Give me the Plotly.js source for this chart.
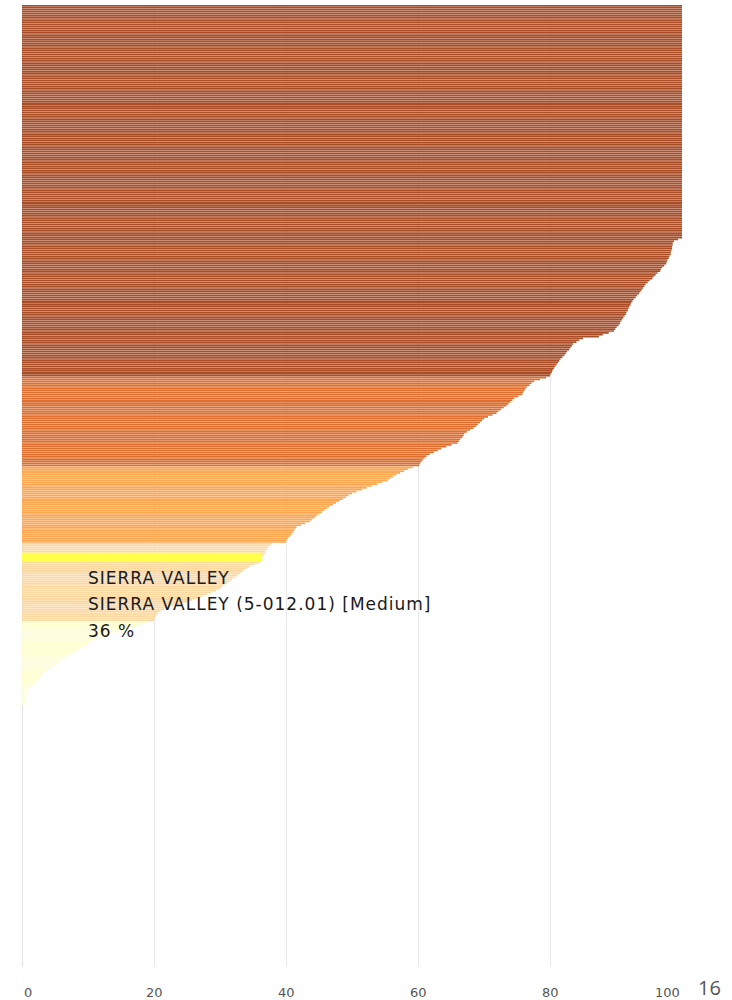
<!DOCTYPE html>
<html><head><meta charset="utf-8">
<script src="https://cdn.plot.ly/plotly-3.0.1.min.js"></script>
<style>
html,body{margin:0;padding:0;background:#fff;}
#chart{width:732px;height:1000px;}
#chart .annotation-text.tip{letter-spacing:1px;}
</style>
</head><body><div id="chart"></div>
<script>
// ---- data ----
const basinCount = 515;
const shareAbove80 = [
100,100,100,100,100,100,100,100,100,100,100,100,100,100,100,100,100,100,100,100,100,100,100,100,100,
100,100,100,100,100,100,100,100,100,100,100,100,100,100,100,100,100,100,100,100,100,100,100,100,100,
100,100,100,100,100,100,100,100,100,100,100,100,100,100,100,100,100,100,100,100,100,100,100,100,100,
100,100,100,100,100,100,100,100,100,100,100,100,100,100,100,100,100,100,100,100,100,100,100,100,100,
100,100,100,100,100,100,100,100,100,100,100,100,100,100,100,100,100,100,100,100,100,100,100,100,100,
99.4,98.8,98.6,98.6,98.5,98.5,98.4,98.3,98.3,98.1,
98.0,97.8,97.7,97.6,97.3,97.0,96.8,96.7,96.3,96.0,
95.7,95.5,95.1,94.8,94.5,94.3,94.1,93.9,93.7,93.5,
93.2,93.0,92.7,92.5,92.3,92.2,92.0,91.9,91.8,91.6,
91.5,91.3,91.1,90.9,90.7,90.6,90.4,90.1,89.9,89.7,
88.9,88.0,87.4,85.0,84.4,84.0,83.5,83.3,83.1,82.9,
82.6,82.4,82.2,81.9,81.6,81.4,81.2,81.0,80.8,80.6,
80.4,80.3,80.1,80.0];
const share60to80 = [
79.4,78.5,77.6,77.2,76.9,76.5,76.3,76.1,75.9,75.8,
75.2,74.6,74.3,74.0,73.7,73.4,73.0,72.6,72.2,71.9,
71.3,70.6,70.0,69.7,69.4,69.1,68.8,68.4,67.9,67.4,
67.0,66.9,66.7,66.4,66.2,66.0,65.1,64.3,63.5,63.0,
62.4,61.8,61.3,61.0,60.7,60.5,60.3,60.2];
const share40to60 = [
59.2,58.5,57.9,57.3,56.7,56.2,55.8,55.4,54.6,53.8,
53.0,52.2,51.5,50.7,50.0,49.5,49.1,48.6,48.1,47.6,
47.1,46.6,46.2,45.8,45.4,45.0,44.6,44.3,43.9,43.6,
42.9,42.3,41.6,41.4,41.2,41.0,40.8,40.5,40.3,40.1,40.0];
const share20to40 = [
37.8,37.5,37.3,37.1,36.9,36.8,36.6,36.4,36.3,36.2,36.0,
35.2,34.5,34.0,33.6,33.3,33.0,32.6,32.2,31.8,31.5,
31.1,30.7,30.3,30.0,29.4,28.7,28.0,27.3,26.5,25.8,
25.0,24.0,23.0,22.0,21.5,21.0,20.6,20.4,20.2,20.1,20.0];
const shareBelow20 = [
19.0,18.1,17.2,16.3,15.3,14.3,13.3,12.5,11.8,11.3,
10.8,10.3,9.8,9.3,8.8,8.3,7.7,7.2,6.7,6.2,
5.9,5.6,5.3,5.0,4.7,4.2,3.7,3.2,3.0,2.8,
2.5,2.3,2.0,1.7,1.4,1.2,1.0,0.8,0.7,0.6,
0.5,0.5,0.4,0.4,0.3];
const highlightRank = 296;
const highlightName = "SIERRA VALLEY";
const highlightBasin = "SIERRA VALLEY (5-012.01) [Medium]";
const xTicks = [0, 20, 40, 60, 80, 100];
const pageNumber = "16";

// ---- build ----
const values = [].concat(shareAbove80, share60to80, share40to60, share20to40, shareBelow20);
const ranks = values.map((v, i) => i + 1);
function classColor(v) {
  if (v >= 80) return '#AA4E27';
  if (v >= 60) return '#DF6F2E';
  if (v >= 40) return '#FDA650';
  if (v >= 20) return '#FDD9A2';
  return '#FFFED4';
}
const highlightValue = values[highlightRank - 1];

const traces = [
  {
    type: 'bar', orientation: 'h',
    x: values, y: ranks,
    marker: { color: values.map(classColor), line: { width: 0 } },
    hoverinfo: 'skip'
  },
  {
    type: 'bar', orientation: 'h',
    x: [highlightValue], y: [highlightRank], width: [4.4],
    marker: { color: '#FFFF4C', line: { width: 0 } },
    hoverinfo: 'skip'
  }
];

const textFont = { family: 'DejaVu Sans, Verdana, sans-serif', size: 17, color: '#1a1a1a' };
function tipLine(text, y) {
  return { xref: 'x', yref: 'paper', x: 9.7, y: y, xanchor: 'left', yanchor: 'middle',
           align: 'left', text: text, showarrow: false, font: textFont };
}
const tickFont = { family: 'DejaVu Sans, sans-serif', size: 13, color: '#555' };
const tickLabels = xTicks.map(function (t, i) {
  return { xref: 'x', yref: 'paper', x: t, y: -0.026, yanchor: 'middle',
           xanchor: i === 0 ? 'left' : (i === xTicks.length - 1 ? 'right' : 'center'),
           text: String(t), showarrow: false, font: tickFont };
});
const layout = {
  width: 732, height: 1000,
  margin: { l: 22, r: 50, t: 5, b: 33 },
  paper_bgcolor: '#ffffff', plot_bgcolor: '#ffffff',
  showlegend: false,
  barmode: 'overlay',
  bargap: 0.12,
  xaxis: {
    range: [0, 100], tickvals: xTicks, showticklabels: false,
    showgrid: true, gridcolor: '#E8E8E8', gridwidth: 1,
    zeroline: true, zerolinecolor: '#E2E2E2', zerolinewidth: 1,
    showline: false, ticks: '',
    fixedrange: true
  },
  yaxis: {
    range: [basinCount + 0.5, 0.5],
    showticklabels: false, showgrid: false, zeroline: false, showline: false, ticks: '',
    fixedrange: true
  },
  annotations: [
    tipLine(highlightName, 0.4044),
    tipLine(highlightBasin, 0.3773),
    tipLine(Math.round(highlightValue) + ' %', 0.3493),
    { xref: 'paper', yref: 'paper', x: 1.041, y: -0.0208, xanchor: 'center', yanchor: 'middle',
      text: pageNumber, showarrow: false,
      font: { family: 'Open Sans, Lato, sans-serif', size: 20, color: '#555' } }
  ].concat(tickLabels)
};

Plotly.newPlot('chart', traces, layout, { displayModeBar: false, staticPlot: true }).then(function () {
  document.querySelectorAll('#chart .annotation-text').forEach(function (el, i) {
    if (i < 3) el.classList.add('tip');
  });
});
</script>
</body></html>
